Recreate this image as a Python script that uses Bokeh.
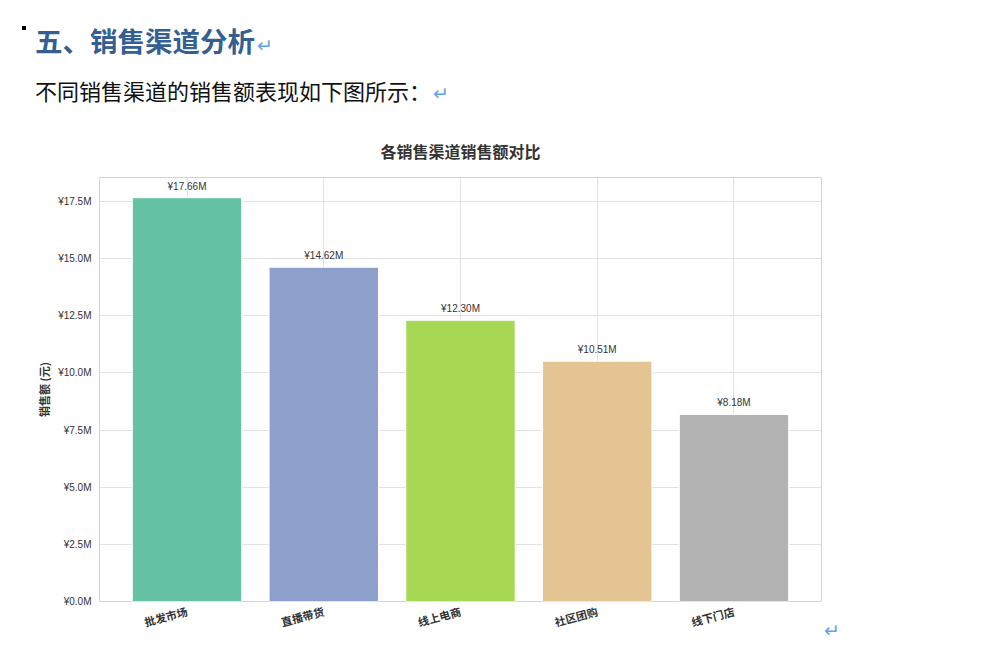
import math
from bokeh.plotting import figure
from bokeh.layouts import column, row
from bokeh.models import ColumnDataSource, FactorRange, Range1d, FixedTicker, Div
from bokeh.core.properties import value
from bokeh.embed import file_html
from bokeh.resources import INLINE

# data
channels = ["批发市场", "直播带货", "线上电商", "社区团购", "线下门店"]
sales = [17.66e6, 14.62e6, 12.30e6, 10.51e6, 8.18e6]
sales_labels = ["¥17.66M", "¥14.62M", "¥12.30M", "¥10.51M", "¥8.18M"]
bar_colors = ["#66c2a5", "#8da0cb", "#a6d854", "#e5c494", "#b3b3b3"]
y_ticks = [0, 2.5e6, 5.0e6, 7.5e6, 10.0e6, 12.5e6, 15.0e6, 17.5e6]
y_tick_labels = ["¥0.0M", "¥2.5M", "¥5.0M", "¥7.5M", "¥10.0M", "¥12.5M", "¥15.0M", "¥17.5M"]

heading = "五、销售渠道分析"
intro = "不同销售渠道的销售额表现如下图所示："
chart_title = "各销售渠道销售额对比"
y_title = "销售额 (元)"

CJK = "Noto Sans CJK SC"
LATIN = "Liberation Sans"

PAGE_W = 968
DIV_H = 120
FIG_W = 826
FIG_H = 520
# frame edges in page pixels
FL, FT, FR, FB = 99, 177, 821, 601

ret = '<span style="font-family:\'DejaVu Sans\';font-size:19px;font-weight:normal;color:#62a3e6;' \
      'margin-left:2px">↵</span>'
doc_html = (
    '<div style="position:relative;width:%dpx;height:%dpx;">' % (PAGE_W, DIV_H)
    + '<div style="position:absolute;left:22px;top:26px;width:4px;height:4px;background:#000"></div>'
    + '<span style="position:absolute;left:35px;top:26px;font-family:\'Noto Sans CJK SC\';font-size:27.5px;'
      'line-height:28px;font-weight:bold;color:#355f91;white-space:nowrap">%s%s</span>' % (heading, ret)
    + '<span style="position:absolute;left:35px;top:79px;font-family:\'Noto Sans CJK SC\';font-size:22px;'
      'line-height:22px;color:#111;white-space:nowrap">%s%s</span>' % (intro, ret)
    + '</div>'
)
doc = Div(text=doc_html, width=PAGE_W, height=DIV_H, margin=0)

# paragraph mark to the right of the chart
tail = Div(text='<div style="position:relative;width:60px;height:%dpx;">'
                '<span style="position:absolute;left:-2px;top:%dpx;font-family:\'DejaVu Sans\';font-size:19px;'
                'line-height:19px;color:#62a3e6">↵</span></div>' % (FIG_H, 621 - DIV_H),
           width=60, height=FIG_H, margin=0)

src = ColumnDataSource(dict(channel=channels, sales=sales, label=sales_labels, color=bar_colors))

p = figure(width=FIG_W, height=FIG_H,
           x_range=FactorRange(*channels, range_padding=0.14, range_padding_units="absolute"),
           y_range=Range1d(0, 18.543e6), toolbar_location=None, output_backend="svg",
           min_border_left=FL, min_border_right=FIG_W - FR,
           min_border_top=FT - DIV_H, min_border_bottom=DIV_H + FIG_H - FB, margin=0)
p.background_fill_color = "white"
p.border_fill_color = "white"
p.outline_line_color = "#d4d4d4"
p.outline_line_width = 1

p.title.text = chart_title
p.title.align = "center"
p.title.text_font = CJK
p.title.text_font_size = "16px"
p.title.text_font_style = "bold"
p.title.text_color = "#333333"
p.title.standoff = 29

p.xgrid.grid_line_color = "#e2e2e2"
p.ygrid.grid_line_color = "#e2e2e2"

p.vbar(x="channel", top="sales", width=0.8, fill_color="color", line_color="white", line_width=1, source=src)
p.text(x="channel", y="sales", text="label", source=src, text_align="center", text_baseline="bottom",
       y_offset=-6, text_font_size="10px", text_color="#333333", text_font=value(LATIN))

p.yaxis.ticker = FixedTicker(ticks=y_ticks)
p.yaxis.major_label_overrides = {t: l for t, l in zip(y_ticks, y_tick_labels)}
p.yaxis.major_label_text_font = LATIN
p.yaxis.major_label_text_font_size = "10px"
p.yaxis.major_label_text_color = "#333333"
p.yaxis.major_label_standoff = 8
p.yaxis.axis_label = y_title
p.yaxis.axis_label_text_font = CJK
p.yaxis.axis_label_text_font_size = "11px"
p.yaxis.axis_label_text_font_style = "bold"
p.yaxis.axis_label_text_color = "#333333"
p.yaxis.axis_label_standoff = 3

p.xaxis.major_label_orientation = math.radians(15)
p.xaxis.major_label_text_font = CJK
p.xaxis.major_label_text_font_size = "11px"
p.xaxis.major_label_text_font_style = "bold"
p.xaxis.major_label_text_color = "#333333"
p.xaxis.major_label_standoff = 9

for ax in (p.xaxis, p.yaxis):
    ax.axis_line_color = None
    ax.major_tick_line_color = None
    ax.minor_tick_line_color = None
    ax.major_tick_out = 0
    ax.major_tick_in = 0

layout = column(doc, row(p, tail, spacing=0), spacing=0)
open("out.html", "w").write(file_html(layout, INLINE))
